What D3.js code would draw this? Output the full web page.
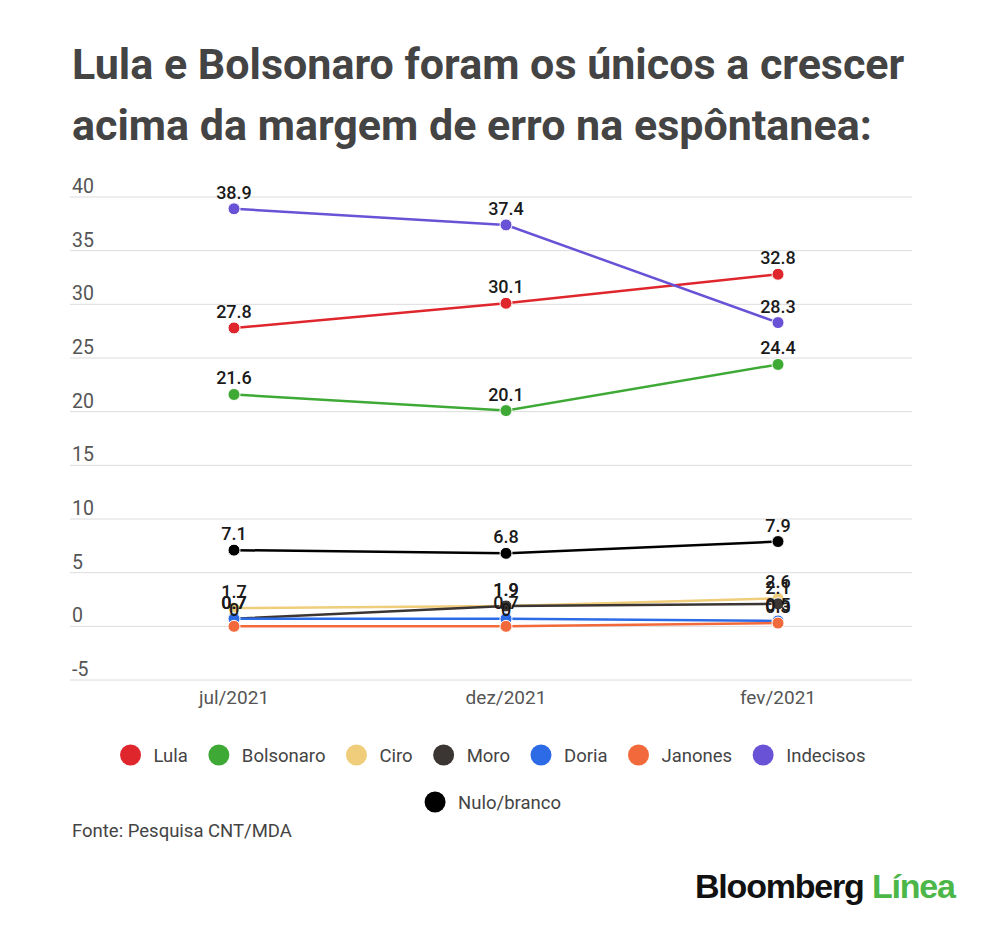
<!DOCTYPE html>
<html>
<head>
<meta charset="utf-8">
<script src="https://cdn.jsdelivr.net/npm/d3@7"></script>
<style>
  body { margin: 0; background: #fff; }
  text { font-family: Roboto, "Noto Sans", sans-serif; }
</style>
</head>
<body>
<div id="chart"></div>
<script>
const months = ['jul/2021', 'dez/2021', 'fev/2021']
const seriesNames = ['Lula', 'Bolsonaro', 'Ciro', 'Moro', 'Doria', 'Janones', 'Indecisos', 'Nulo/branco']
const seriesColors = ['#e0262d', '#3eaa35', '#f0cd7a', '#3b3633', '#2d6be6', '#f26a3b', '#6a52d6', '#000000']
const lula = [27.8, 30.1, 32.8]
const bolsonaro = [21.6, 20.1, 24.4]
const ciro = [1.7, 1.9, 2.6]
const moro = [0.7, 1.9, 2.1]
const doria = [0.7, 0.7, 0.5]
const janones = [0, 0, 0.3]
const indecisos = [38.9, 37.4, 28.3]
const nulo = [7.1, 6.8, 7.9]
const yTicks = [-5, 0, 5, 10, 15, 20, 25, 30, 35, 40]

const seriesValues = [lula, bolsonaro, ciro, moro, doria, janones, indecisos, nulo]
const series = seriesNames.map((name, i) => ({
    name: name,
    color: seriesColors[i],
    values: seriesValues[i].map((v, j) => ({ month: months[j], value: v }))
}))

const dms = {
    width: 1000,
    height: 930,
    plotLeft: 70,
    plotRight: 912
}

const svg = d3.select('#chart').append('svg')
    .attr('width', dms.width)
    .attr('height', dms.height)

// title
const title = svg.append('g')
    .attr('fill', '#444')
    .style('font-weight', 700)
    .style('font-size', '43px')
title.append('text').attr('x', 72).attr('y', 79).text('Lula e Bolsonaro foram os únicos a crescer')
title.append('text').attr('x', 72).attr('y', 140).text('acima da margem de erro na espôntanea:')

const xScale = d3.scalePoint()
    .domain(months)
    .range([98, 914])
    .padding(0.5)

const yScale = d3.scaleLinear()
    .domain([-5, 40])
    .range([680, 197])

// grid + y labels
const grid = svg.append('g')
grid.selectAll('line')
    .data(yTicks)
    .join('line')
    .attr('x1', dms.plotLeft)
    .attr('x2', dms.plotRight)
    .attr('y1', d => yScale(d))
    .attr('y2', d => yScale(d))
    .attr('stroke', '#dcdcdc')
    .attr('stroke-width', 1)

grid.selectAll('text')
    .data(yTicks)
    .join('text')
    .attr('x', 72)
    .attr('y', d => yScale(d) - 4)
    .attr('fill', '#555')
    .style('font-size', '19.5px')
    .text(d => d)

// x labels
svg.append('g').selectAll('text')
    .data(months)
    .join('text')
    .attr('x', d => xScale(d))
    .attr('y', 704)
    .attr('text-anchor', 'middle')
    .attr('fill', '#555')
    .style('font-size', '19px')
    .text(d => d)

const lineGen = d3.line()
    .x(d => xScale(d.month))
    .y(d => yScale(d.value))

const seriesG = svg.append('g')
    .selectAll('g')
    .data(series)
    .join('g')

seriesG.append('path')
    .attr('d', d => lineGen(d.values))
    .attr('fill', 'none')
    .attr('stroke', d => d.color)
    .attr('stroke-width', 2.5)

seriesG.selectAll('circle')
    .data(d => d.values.map(v => ({ ...v, color: d.color })))
    .join('circle')
    .attr('cx', d => xScale(d.month))
    .attr('cy', d => yScale(d.value))
    .attr('r', 6)
    .attr('fill', d => d.color)
    .attr('stroke', '#fff')
    .attr('stroke-width', 1)

seriesG.selectAll('text')
    .data(d => d.values)
    .join('text')
    .attr('x', d => xScale(d.month))
    .attr('y', d => yScale(d.value) - 10)
    .attr('text-anchor', 'middle')
    .attr('fill', '#1a1a1a')
    .style('font-size', '18px')
    .style('font-weight', 500)
    .text(d => d.value)

// legend
const legendRows = [seriesNames.slice(0, 7), seriesNames.slice(7)]
const legendY = [755, 802]
legendRows.forEach((row, r) => {
    const g = svg.append('g')
    let x = 0
    row.forEach(name => {
        const i = seriesNames.indexOf(name)
        const item = g.append('g').attr('transform', `translate(${x},0)`)
        item.append('circle')
            .attr('cx', 10)
            .attr('cy', 0)
            .attr('r', 10.5)
            .attr('fill', seriesColors[i])
        const t = item.append('text')
            .attr('x', 33)
            .attr('y', 6.5)
            .attr('fill', '#444')
            .style('font-size', '18.5px')
            .text(name)
        x += 33 + t.node().getComputedTextLength() + 21
    })
    const total = x - 21
    g.attr('transform', `translate(${493 - total / 2},${legendY[r]})`)
})

// source
svg.append('text')
    .attr('x', 72)
    .attr('y', 837)
    .attr('fill', '#444')
    .style('font-size', '18.5px')
    .text('Fonte: Pesquisa CNT/MDA')

// logo
const logo = svg.append('text')
    .attr('x', 695)
    .attr('y', 898)
    .style('font-family', '"Liberation Sans", Arial, sans-serif')
    .style('font-weight', 700)
    .style('font-size', '34px')
    .style('letter-spacing', '-1.2px')
logo.append('tspan').attr('fill', '#111').text('Bloomberg ')
logo.append('tspan').attr('fill', '#4cb748').text('Línea')
</script>
</body>
</html>
